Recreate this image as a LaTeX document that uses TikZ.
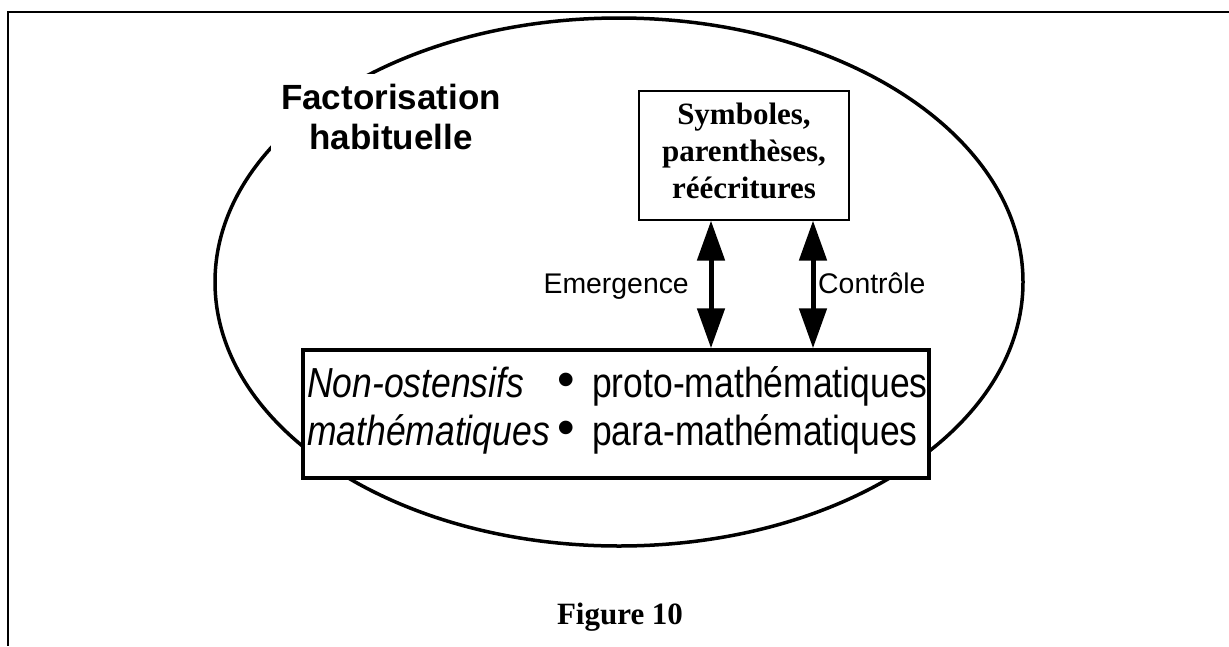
\documentclass[tikz,border=0pt]{standalone}
\usepackage{fontspec}
\setmainfont{Liberation Serif}
\newfontfamily\arial{Liberation Sans}
\newfontfamily\arialc[FakeStretch=0.845]{Liberation Sans}
\usetikzlibrary{arrows.meta}
\begin{document}
\begin{tikzpicture}[x=1pt,y=-1pt,
  frameline/.style={line width=2pt},
  outerell/.style={line width=3.5pt},
  symbox/.style={draw, line width=1.2pt, minimum width=210pt, minimum height=129pt, inner sep=0pt},
  nobox/.style={draw, fill=white, line width=3.5pt, minimum width=626pt, minimum height=128pt, inner sep=0pt},
  dbl/.style={line width=5pt, {Triangle[length=40pt,width=27pt]}-{Triangle[length=40pt,width=27pt]}},
  lbl/.style={font=\arial\fontsize{28.4}{33}\selectfont, inner sep=0pt},
  nontext/.style={font=\arialc\fontsize{42}{48}\selectfont, inner sep=0pt},
  bul/.style={font=\arial\fontsize{50}{50}\selectfont, inner sep=0pt},
  serifbold/.style={font=\bfseries\fontsize{31}{37}\selectfont, inner sep=0pt},
]
\useasboundingbox (0,0) rectangle (1229,646);
\draw[frameline] (1229,12) -- (8,12) -- (8,646);
\draw[outerell] (619,282) ellipse [x radius=404, y radius=264];
\node[fill=white, inner sep=10pt, anchor=north, align=center,
      font=\arial\bfseries\fontsize{35}{40}\selectfont] (fact) at (391,74) {Factorisation\\habituelle};
\node[symbox] (sym) at (744,155.5) {};
\node[serifbold, anchor=north, align=center] (symt) at (744,102.5) {Symboles,\\parenthèses,\\réécritures};
\node[nobox] (nb) at (616,414) {};
\node[nontext, anchor=base west] (n1) at (307,397) {\itshape Non-ostensifs};
\node[nontext, anchor=base west] (n2) at (307,445) {\itshape mathématiques};
\node[bul] (b1) at (566,385) {•};
\node[bul] (b2) at (566,433) {•};
\node[nontext, anchor=base west] (p1) at (592,397) {proto-mathématiques};
\node[nontext, anchor=base west] (p2) at (592,445) {para-mathématiques};
\coordinate (e1) at (711,0);
\coordinate (e2) at (813,0);
\draw[dbl] (sym.south -| e1) -- (nb.north -| e1);
\draw[dbl] (sym.south -| e2) -- (nb.north -| e2);
\node[lbl, anchor=base east] (em) at (689,293) {Emergence};
\node[lbl, anchor=base west] (co) at (818,293) {Contrôle};
\node[serifbold, anchor=base] (fig) at (620,624) {Figure 10};
\end{tikzpicture}
\end{document}
